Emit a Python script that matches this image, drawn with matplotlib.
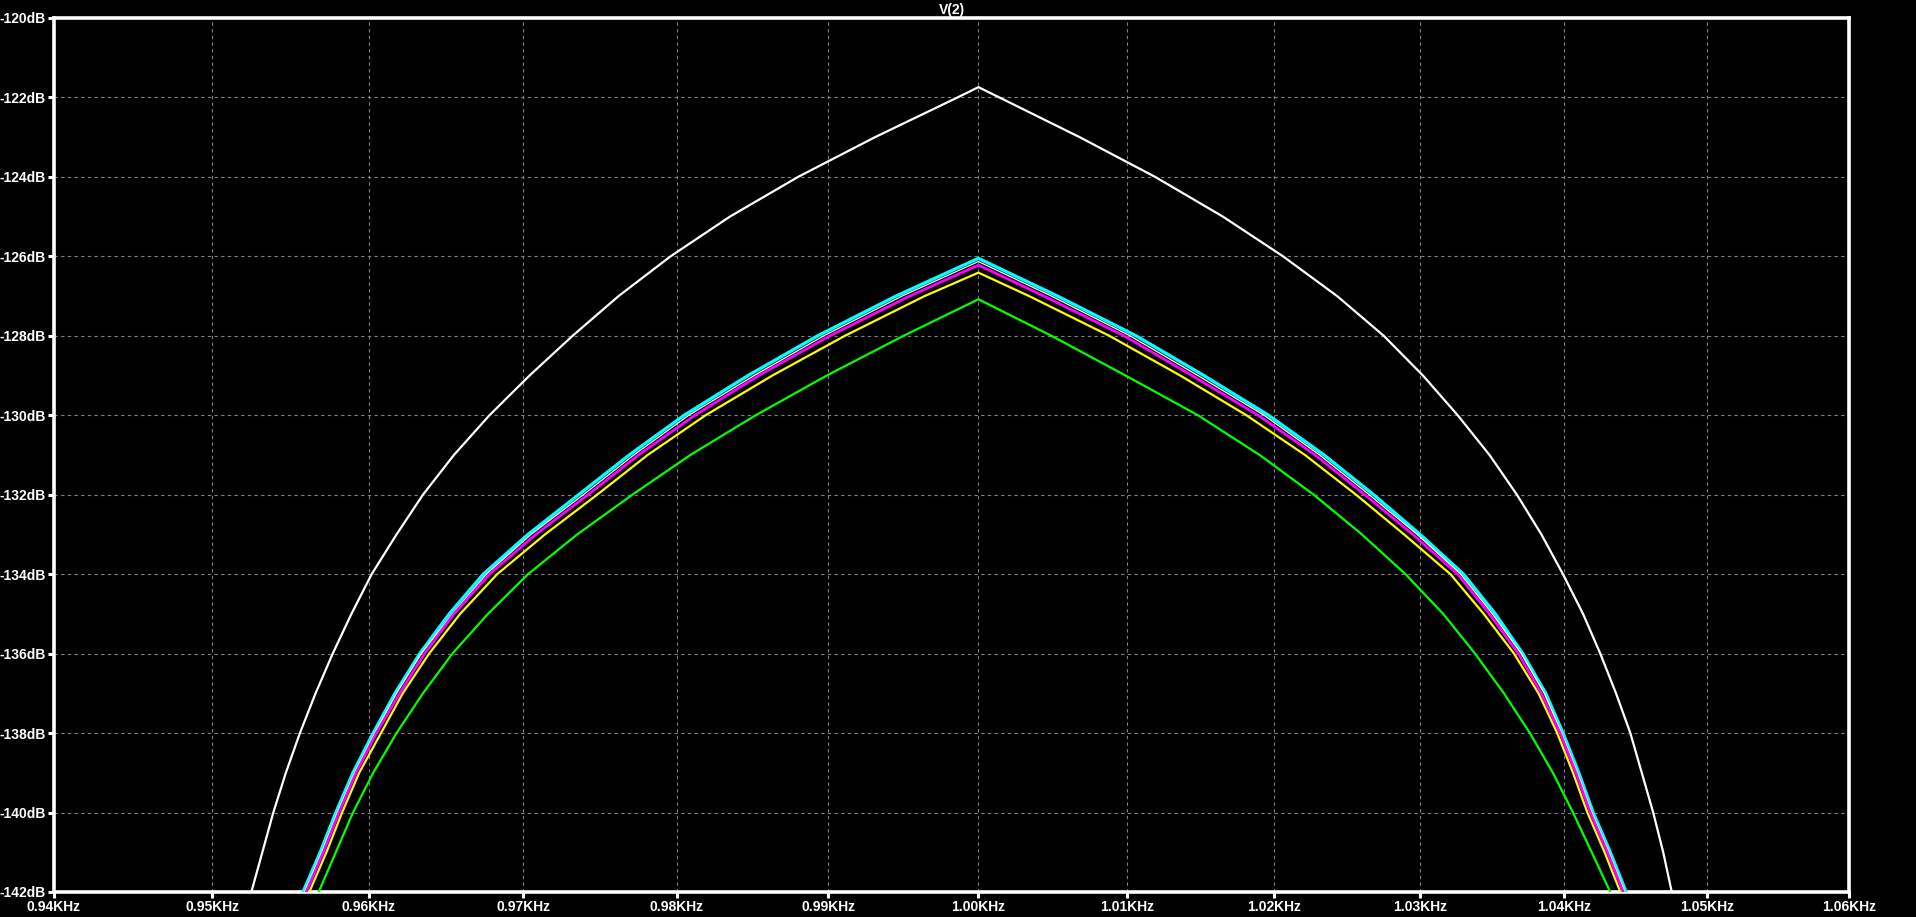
import matplotlib

matplotlib.use("Agg")

import matplotlib.pyplot as plt
from matplotlib.ticker import FixedLocator, NullLocator

# -----------------------------
# Data (frequency in Hz, level in dB)
# -----------------------------
freq_white = [952.5, 953.2, 953.9, 954.7, 955.6, 956.6, 957.7, 958.9, 960.2,
              961.8, 963.5, 965.5, 967.8, 970.4, 973.2, 976.2, 979.6, 983.5,
              988.0, 993.1, 998.6, 1000.0, 1001.4, 1006.8, 1011.9, 1016.5,
              1020.6, 1024.3, 1027.5, 1030.2, 1032.6, 1034.8, 1036.7, 1038.4,
              1039.9, 1041.3, 1042.5, 1043.6, 1044.6, 1045.4, 1046.2, 1046.9,
              1047.5]
db_white = [-142, -141, -140, -139, -138, -137, -136, -135, -134,
            -133, -132, -131, -130, -129, -128, -127, -126, -125,
            -124, -123, -122, -121.74, -122, -123, -124, -125,
            -126, -127, -128, -129, -130, -131, -132, -133,
            -134, -135, -136, -137, -138, -139, -140, -141,
            -142]

freq_cyan = [955.8, 956.9, 957.9, 959.0, 960.3, 961.7, 963.3, 965.2, 967.4,
             970.3, 973.6, 976.9, 980.5, 984.7, 989.3, 994.5, 1000.0,
             1005.3, 1010.6, 1015.2, 1019.6, 1023.4, 1026.8, 1030.0, 1033.0,
             1035.2, 1037.1, 1038.7, 1039.9, 1041.0, 1042.0, 1043.2, 1044.3]
db_cyan = [-142, -141, -140, -139, -138, -137, -136, -135, -134,
           -133, -132, -131, -130, -129, -128, -127, -126.05,
           -127, -128, -129, -130, -131, -132, -133, -134,
           -135, -136, -137, -138, -139, -140, -141, -142]

freq_thin = [955.9, 957.0, 958.0, 959.1, 960.4, 961.8, 963.4, 965.4, 967.6,
             970.5, 973.9, 977.2, 980.8, 985.1, 989.7, 994.9, 1000.0,
             1004.9, 1010.2, 1014.8, 1019.3, 1023.1, 1026.5, 1029.8, 1032.8,
             1035.0, 1037.0, 1038.6, 1039.8, 1040.9, 1041.9, 1043.1, 1044.2]
db_thin = [-142, -141, -140, -139, -138, -137, -136, -135, -134,
           -133, -132, -131, -130, -129, -128, -127, -126.13,
           -127, -128, -129, -130, -131, -132, -133, -134,
           -135, -136, -137, -138, -139, -140, -141, -142]

freq_magenta = [956.0, 957.1, 958.1, 959.2, 960.5, 962.0, 963.6, 965.5, 967.8,
                970.8, 974.2, 977.5, 981.2, 985.4, 990.1, 995.4, 1000.0,
                1004.4, 1009.8, 1014.4, 1018.9, 1022.8, 1026.2, 1029.5, 1032.6,
                1034.8, 1036.8, 1038.4, 1039.7, 1040.8, 1041.8, 1043.0, 1044.1]
db_magenta = [-142, -141, -140, -139, -138, -137, -136, -135, -134,
              -133, -132, -131, -130, -129, -128, -127, -126.22,
              -127, -128, -129, -130, -131, -132, -133, -134,
              -135, -136, -137, -138, -139, -140, -141, -142]

freq_yellow = [956.2, 957.3, 958.3, 959.4, 960.8, 962.2, 963.9, 965.9, 968.3,
               971.4, 974.8, 978.1, 981.9, 986.3, 991.1, 996.4, 1000.0,
               1003.4, 1008.8, 1013.6, 1018.1, 1022.1, 1025.6, 1028.9, 1032.1,
               1034.4, 1036.5, 1038.2, 1039.5, 1040.6, 1041.6, 1042.8, 1043.9]
db_yellow = [-142, -141, -140, -139, -138, -137, -136, -135, -134,
             -133, -132, -131, -130, -129, -128, -127, -126.41,
             -127, -128, -129, -130, -131, -132, -133, -134,
             -135, -136, -137, -138, -139, -140, -141, -142]

freq_green = [956.8, 957.9, 959.0, 960.3, 961.8, 963.5, 965.4, 967.7, 970.3,
              973.5, 977.1, 980.9, 985.2, 989.9, 995.0, 1000.0,
              1004.9, 1009.9, 1014.8, 1019.0, 1022.7, 1026.0, 1029.0, 1031.6,
              1033.8, 1035.8, 1037.6, 1039.2, 1040.6, 1041.9, 1043.2]
db_green = [-142, -141, -140, -139, -138, -137, -136, -135, -134,
            -133, -132, -131, -130, -129, -128, -127.08,
            -128, -129, -130, -131, -132, -133, -134, -135,
            -136, -137, -138, -139, -140, -141, -142]

x_ticks = [940, 950, 960, 970, 980, 990, 1000, 1010, 1020, 1030, 1040, 1050, 1060]
x_labels = ["0.94KHz", "0.95KHz", "0.96KHz", "0.97KHz", "0.98KHz", "0.99KHz",
            "1.00KHz", "1.01KHz", "1.02KHz", "1.03KHz", "1.04KHz", "1.05KHz",
            "1.06KHz"]
y_ticks = [-120, -122, -124, -126, -128, -130, -132, -134, -136, -138, -140, -142]
y_labels = [f"{v}dB" for v in y_ticks]

# -----------------------------
# Figure
# -----------------------------
plt.rcParams["font.family"] = ["Liberation Sans", "DejaVu Sans"]

fig = plt.figure(figsize=(19.16, 9.17), dpi=100, facecolor="black")
ax = fig.add_axes([54 / 1916, 1 - 892 / 917, 1795 / 1916, 874 / 917])
ax.set_facecolor("black")

ax.plot(freq_white, db_white, color="#ffffff", lw=1.6, zorder=3)
ax.plot(freq_green, db_green, color="#00ff00", lw=1.6, zorder=3)
ax.plot(freq_yellow, db_yellow, color="#ffff00", lw=1.6, zorder=3)
ax.plot(freq_cyan, db_cyan, color="#00ffff", lw=2.4, zorder=3)
ax.plot(freq_thin, db_thin, color="#ffffff", lw=0.9, zorder=3)
ax.plot(freq_magenta, db_magenta, color="#ff00ff", lw=2.0, zorder=3)

ax.set_xscale("log")
ax.set_xlim(940, 1060)
ax.set_ylim(-142, -120)

ax.xaxis.set_major_locator(FixedLocator(x_ticks))
ax.xaxis.set_minor_locator(NullLocator())
ax.set_xticklabels(x_labels)
ax.set_yticks(y_ticks)
ax.set_yticklabels(y_labels)

ax.grid(True, color="#808080", lw=0.8, dashes=(3, 3))
ax.set_axisbelow(True)

for spine in ax.spines.values():
    spine.set_color("white")
    spine.set_linewidth(2.6)

ax.tick_params(colors="white", width=2.2, length=4, direction="out", pad=2)
for lab in ax.get_xticklabels() + ax.get_yticklabels():
    lab.set_fontsize(10)
    lab.set_fontweight("bold")
    lab.set_color("white")

ax.set_title("V(2)", color="white", fontsize=10, fontweight="bold", pad=3)

fig.savefig("out.png", dpi=100, facecolor="black")
